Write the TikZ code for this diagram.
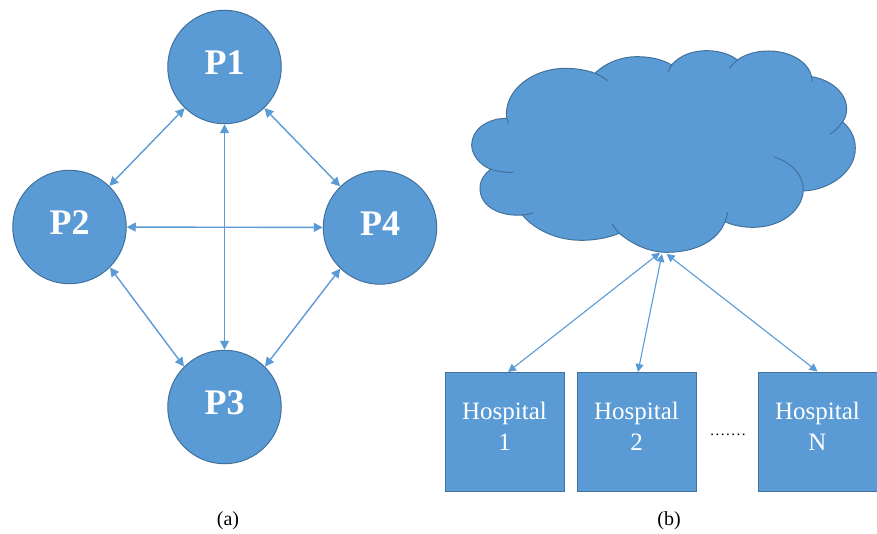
\documentclass[tikz,border=0pt]{standalone}
\usepackage{fontspec}
\setmainfont{Liberation Serif}
\usetikzlibrary{arrows.meta}
\definecolor{fillblue}{HTML}{5B9BD5}
\definecolor{edgeblue}{HTML}{41719C}
\tikzset{
  peer/.style={circle,draw=edgeblue,fill=fillblue,line width=1pt,minimum size=113.5pt,inner sep=0pt,text=white,text depth=8pt,font=\fontsize{36}{36}\selectfont\bfseries},
  hospital/.style={draw=edgeblue,fill=fillblue,line width=1pt,minimum width=119pt,minimum height=119pt,inner sep=0pt,align=center,text=white,text depth=10pt,font=\fontsize{25}{31}\selectfont},
  link/.style={draw=fillblue,line width=1.4pt,{Triangle[length=9pt,width=9pt]}-{Triangle[length=9pt,width=9pt]}},
  hlink/.style={draw=fillblue,line width=1.1pt,{Triangle[length=8pt,width=8pt]}-{Triangle[length=8pt,width=8pt]}},
  caption/.style={font=\fontsize{20}{20}\selectfont,inner sep=0pt}
}
\begin{document}
\begin{tikzpicture}[x=1pt,y=-1pt]
\useasboundingbox (0,0) rectangle (877,534);
\node[peer] (p1) at (224.5,67) {P1};
\node[peer] (p2) at (69.5,227) {P2};
\node[peer] (p4) at (380,227.5) {P4};
\node[peer] (p3) at (224.5,407) {P3};
\draw[link] (p1) -- (p2);
\draw[link] (p1) -- (p4);
\draw[link] (p2.-45) -- (p3.135);
\draw[link] (p4.226) -- (p3.45);
\draw[link] (p1) -- (p3);
\draw[link] (p2) -- (p4);
\begin{scope}[shift={(460,40)},x=0.3333pt,y=-0.3333pt]
\path[fill=fillblue,draw=edgeblue,line width=1pt]
 (140,235) .. controls (130,150) and (220,85) .. (315,85)
 .. controls (345,85) and (380,90) .. (405,100)
 .. controls (440,65) and (490,50) .. (530,50)
 .. controls (575,50) and (610,60) .. (635,75)
 .. controls (660,45) and (700,32) .. (740,32)
 .. controls (780,32) and (815,45) .. (832,60)
 .. controls (860,40) and (895,33) .. (925,33)
 .. controls (990,33) and (1045,65) .. (1055,110)
 .. controls (1115,120) and (1160,160) .. (1160,207)
 .. controls (1160,222) and (1156,235) .. (1148,245)
 .. controls (1175,270) and (1186,295) .. (1186,325)
 .. controls (1186,395) and (1110,450) .. (1030,453)
 .. controls (1025,515) and (960,562) .. (880,562)
 .. controls (850,562) and (820,557) .. (795,545)
 .. controls (775,600) and (710,637) .. (620,637)
 .. controls (570,637) and (520,615) .. (478,580)
 .. controls (440,595) and (400,601) .. (365,601)
 .. controls (290,601) and (225,570) .. (187,525)
 .. controls (120,530) and (60,500) .. (60,445)
 .. controls (60,420) and (75,400) .. (92,388)
 .. controls (60,375) and (35,345) .. (35,315)
 .. controls (35,270) and (80,235) .. (140,235) -- cycle;
\draw[edgeblue,line width=1pt]
 (140,235) -- (146,250)
 (405,100) .. controls (420,106) and (432,114) .. (443,122)
 (635,75) .. controls (630,82) and (627,90) .. (625,97)
 (832,60) .. controls (822,68) and (815,76) .. (808,85)
 (1055,110) -- (1057,125)
 (1148,245) .. controls (1138,260) and (1125,273) .. (1110,283)
 (943,351) .. controls (1000,370) and (1032,410) .. (1030,453)
 (795,545) .. controls (799,535) and (802,526) .. (803,517)
 (478,580) .. controls (470,572) and (462,562) .. (457,552)
 (187,525) .. controls (198,524) and (209,522) .. (220,518)
 (92,388) .. controls (112,394) and (136,398) .. (160,397);
\coordinate (c1) at (600,638);
\coordinate (c2) at (606,642);
\coordinate (c3) at (620,642);
\end{scope}
\node[hospital] (h1) at (504.5,431.5) {Hospital\\1};
\node[hospital] (h2) at (636.5,431.5) {Hospital\\2};
\node[hospital] (h3) at (817.5,431.5) {Hospital\\N};
\coordinate (t1) at (508,372);
\coordinate (t2) at (638,372);
\draw[hlink] (c1) -- (t1);
\draw[hlink] (c2) -- (t2);
\draw[hlink] (c3) -- (h3.north);
\node[font=\fontsize{15}{15}\selectfont\addfontfeature{LetterSpace=10},inner sep=0pt] (dots) at (728,435) {.......};
\node[caption] (capa) at (228,520.5) {(a)};
\node[caption] (capb) at (669,520.5) {(b)};
\end{tikzpicture}
\end{document}
